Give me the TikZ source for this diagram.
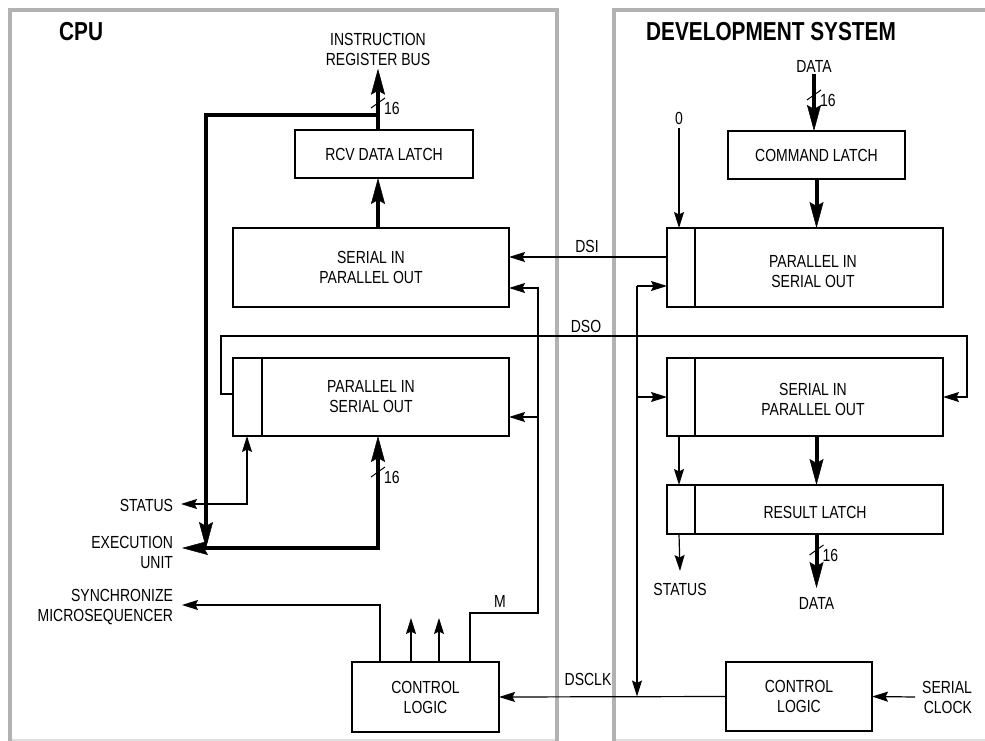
\documentclass[tikz,border=0pt]{standalone}
\usepackage{fontspec}
\setmainfont{Liberation Sans}[FakeStretch=0.8]
\usetikzlibrary{arrows.meta,positioning}

\newcommand\lblfont{\fontsize{17.5}{20}\selectfont}
\newcommand\ttlfont{\fontsize{26}{30}\selectfont\bfseries}

\tikzset{
  lbl/.style={inner sep=0pt, outer sep=0pt, font=\lblfont, align=center},
  ttl/.style={inner sep=0pt, font=\ttlfont, anchor=west},
  blk/.style={draw, line width=1.3pt, inner sep=0pt, outer sep=0pt, align=center, font=\lblfont},
  divider/.style={line width=1.3pt},
  frm/.style={draw=black!30, line width=4pt},
  frmlow/.style={draw=black!13, line width=2pt},
  sig/.style={line width=1.2pt, >={Stealth[length=16pt,width=10pt,inset=2.5pt]}},
  bus/.style={line width=4pt, >={Stealth[length=26pt,width=14pt,inset=4pt,line width=0.5pt]}},
  pics/w16/.style={code={
    \draw[line width=1pt] (-7,5) -- (7,-5);
    \node[lbl, anchor=west] (-n) at (6,5) {16};
  }}
}

\begin{document}
\begin{tikzpicture}[x=1pt,y=-1pt]
\useasboundingbox (0,0) rectangle (985,741);

% frames
\draw[frm] (10,741) -- (10,10.5) -- (557,10.5) -- (557,741);
\draw[frm] (614,741) -- (614,10.5) -- (990,10.5);
\draw[frmlow] (12,739.5) -- (555,739.5);
\draw[frmlow] (616,739.5) -- (985,739.5);

\node[ttl] (cpu) at (59,32) {CPU};
\node[ttl] (dev) at (646,32) {DEVELOPMENT SYSTEM};

% CPU side
\node[blk, minimum width=178pt, minimum height=48pt] (rcv) at (384,154) {RCV DATA LATCH};
\node[blk, line width=2pt, minimum width=276pt, minimum height=79pt] (sipoC) at (371,267.5) {SERIAL IN\\PARALLEL OUT};
\node[blk, minimum width=276pt, minimum height=78pt] (pisoC) at (371,397) {PARALLEL IN\\SERIAL OUT};
\draw[divider] ([xshift=29pt]pisoC.north west) -- ([xshift=29pt]pisoC.south west);
\node[blk, minimum width=147pt, minimum height=70pt] (ctlC) at (425.5,697) {CONTROL\\LOGIC};

\node[lbl] (irbus) at (378,49.5) {INSTRUCTION\\REGISTER BUS};
\coordinate (busx) at (378,115);
\coordinate (exJ) at (206,548);
\coordinate (exTip) at (182,548);
\node[lbl, align=right, left=9pt of exTip, yshift=-4pt] (exec) {EXECUTION\\UNIT};

\draw[bus,->] (rcv.north -| busx) -- ([yshift=-3pt]irbus.south);
\draw[bus,->] (busx) -| (exJ);
\draw[bus,->] (sipoC.north -| busx) -- (rcv.south -| busx);
\draw[bus,<->] (pisoC.south -| busx) -- (busx |- exJ) -- (exTip);
\pic (w1) at (378,103) {w16};
\pic (w2) at (378,472) {w16};

\coordinate (stTip) at (181,504);
\coordinate (stJ) at (247,504);
\node[lbl, left=8pt of stTip, yshift=-1pt] (stC) {STATUS};
\draw[sig,<->] (stTip) -- (stJ) -- (stJ |- pisoC.south);

\coordinate (syTip) at (182,605);
\coordinate (syJ) at (380,605);
\node[lbl, align=right, left=9pt of syTip, yshift=-2pt] (sync) {SYNCHRONIZE\\MICROSEQUENCER};
\draw[sig,->] (syJ |- ctlC.north) -- (syJ) -- (syTip);
\foreach \x in {411,439}
  \draw[sig,->] (\x,0 |- ctlC.north) -- (\x,618);

\coordinate (mx) at (470,613);
\coordinate (mJ) at (538,613);
\coordinate (mP) at ([yshift=-20pt]pisoC.east);
\node[lbl] (mlbl) at (500,601) {M};
\draw[sig,->] (mx |- ctlC.north) -- (mx) -- (mJ) |- ([yshift=-20.5pt]sipoC.east);
\draw[sig,->] (mP -| mJ) -- (mP);

% development system side
\node[blk, minimum width=177pt, minimum height=48pt] (cmd) at (816.5,155) {COMMAND LATCH};
\node[blk, minimum width=276pt, minimum height=79pt] (pisoD) at (805,267.5) {};
\node[lbl] (pisoDt) at (813,272) {PARALLEL IN\\SERIAL OUT};
\node[blk, minimum width=276pt, minimum height=78pt] (sipoD) at (805,397) {};
\node[lbl] (sipoDt) at (813,399) {SERIAL IN\\PARALLEL OUT};
\node[blk, minimum width=276pt, minimum height=49pt] (resD) at (805,509.5) {};
\node[lbl] (resDt) at (815,512) {RESULT LATCH};
\foreach \b in {pisoD,sipoD,resD}
  \draw[divider] ([xshift=28pt]\b.north west) -- ([xshift=28pt]\b.south west);
\node[blk, minimum width=146pt, minimum height=69pt] (ctlD) at (799,696.5) {CONTROL\\LOGIC};

\node[lbl] (dIn) at (814,66) {DATA};
\node[lbl] (zero) at (679,118) {0};
\draw[bus,->] ([yshift=-2pt]dIn.south) -- (cmd.north -| dIn);
\pic (w3) at (814,95) {w16};
\draw[sig,->] ([yshift=-4pt]zero.south) -- (zero.south |- pisoD.north);
\draw[bus,->] (cmd.south) -- (cmd.south |- pisoD.north);
\draw[bus,->] (sipoD.south -| cmd) -- (resD.north -| cmd);
\draw[sig,->] (sipoD.south -| zero) -- (resD.north -| zero);

\coordinate (stDtip) at (680,571);
\node[lbl, below=12pt of stDtip] (stD) {STATUS};
\draw[sig,->] (resD.south -| zero) -- (stDtip);
\coordinate (dOutTip) at (816.5,588);
\node[lbl, below=9pt of dOutTip] (dOut) {DATA};
\draw[bus,->] (resD.south -| cmd) -- (dOutTip);
\pic (w4) at (816.5,550) {w16};

\node[lbl, align=right, anchor=east] (serclk) at (972,697) {SERIAL\\CLOCK};
\draw[sig,->] ([xshift=-7pt]serclk.west) -- (ctlD.east);

% links between the two sides
\node[lbl] (dsi) at (587,246) {DSI};
\coordinate (dsiY) at (0,257);
\draw[sig,->] (pisoD.west |- dsiY) -- (sipoC.east |- dsiY);

\node[lbl] (dso) at (586,326) {DSO};
\coordinate (dsoL) at (221,336);
\coordinate (dsoR) at (967,336);
\draw[sig,->] ([yshift=3pt]pisoC.west) -| (dsoL) -- (dsoR) |- (sipoD.east);

\node[lbl] (dsclk) at (588,679) {DSCLK};
\draw[sig,->] (ctlD.west) -- (ctlC.east);
\coordinate (ckJ) at (637,286);
\draw[sig,->] (ckJ) -- (ckJ -| pisoD.west);
\draw[sig,->] (ckJ |- sipoD.west) -- (sipoD.west);
\draw[sig,->] (ckJ) -- (ckJ |- ctlD.west);
\end{tikzpicture}
\end{document}
